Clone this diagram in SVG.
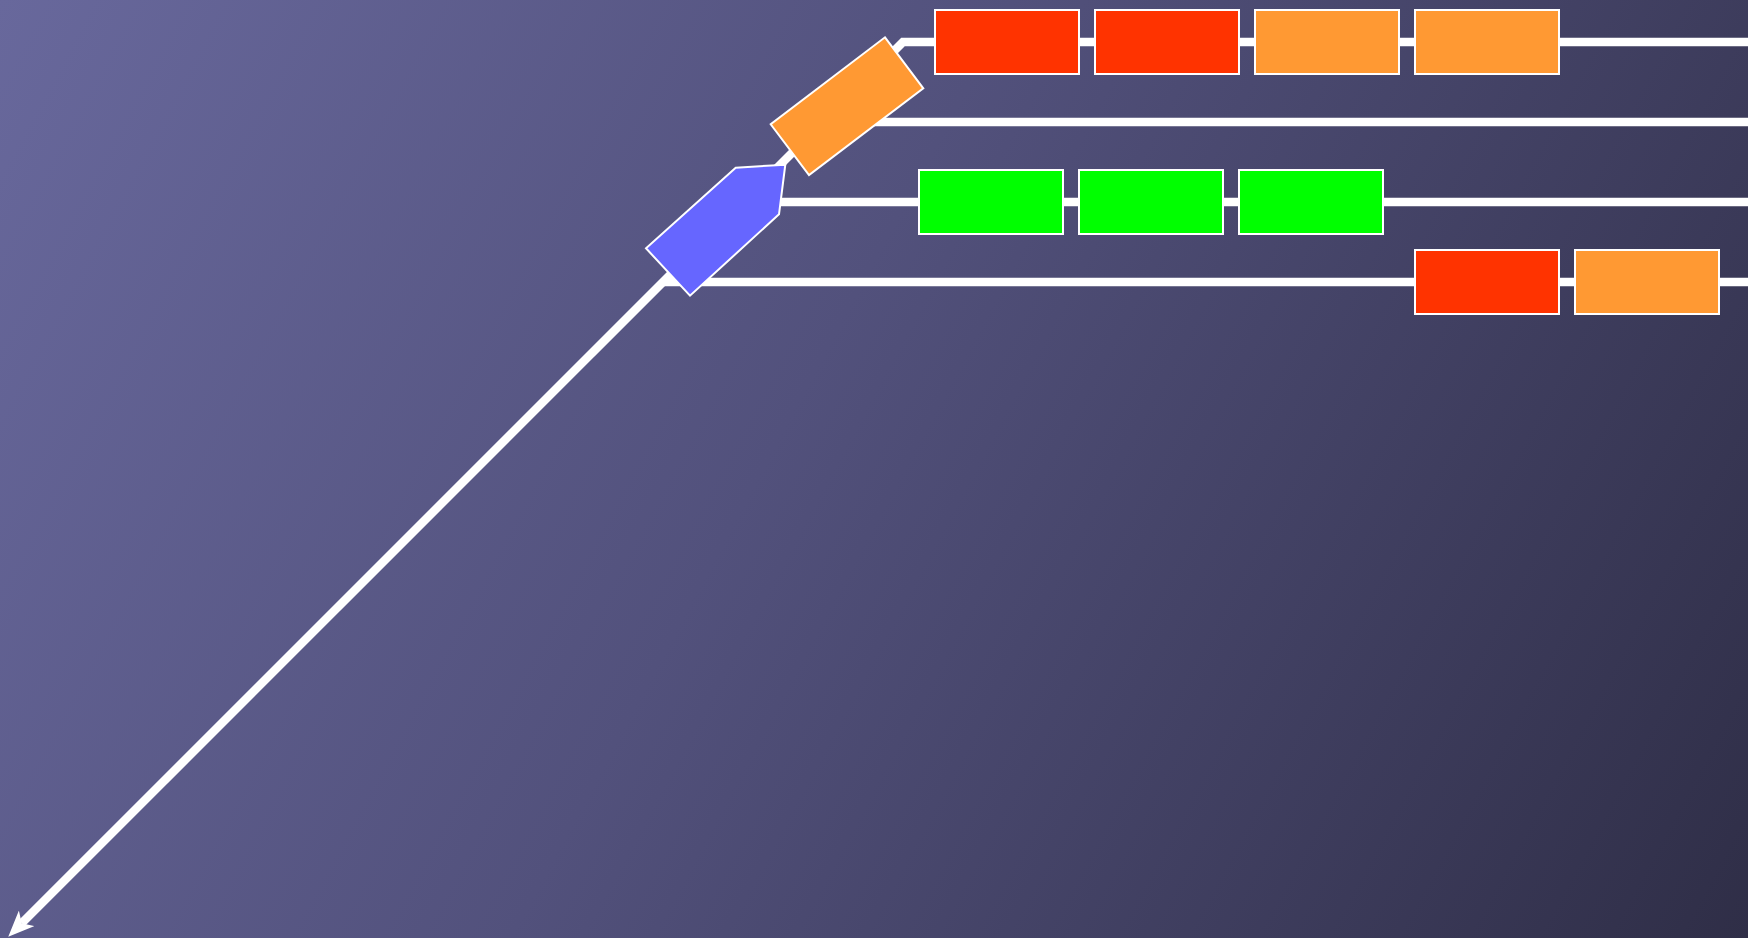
<svg xmlns="http://www.w3.org/2000/svg" width="1748" height="938" viewBox="0 0 1748 938">
  <defs>
    <linearGradient id="bg" x1="0" y1="0" x2="1748" y2="938" gradientUnits="userSpaceOnUse">
      <stop offset="0" stop-color="#68689c"/>
      <stop offset="0.45" stop-color="#52517c"/>
      <stop offset="1" stop-color="#2f2e47"/>
    </linearGradient>
    <marker id="arrow" viewBox="0 0 26 22" refX="7" refY="11" markerWidth="26" markerHeight="22" markerUnits="userSpaceOnUse" orient="auto">
      <path d="M0,0 L26,11 L0,22 L7,11 z" fill="#ffffff"/>
    </marker>
    <style>
      .ln { stroke: #ffffff; stroke-width: 8.5; fill: none; }
      .box { stroke: #ffffff; stroke-width: 2; }
      .red { fill: #ff3300; }
      .orange { fill: #ff9933; }
      .green { fill: #00ff00; }
      .blue { fill: #6666ff; }
    </style>
  </defs>
  <rect x="0" y="0" width="1748" height="938" fill="url(#bg)"/>

  <g id="connectors">
    <path class="ln" d="M1748,42 L903,42 L21.7,923.3" marker-end="url(#arrow)"/>
    <line class="ln" x1="823" y1="122" x2="1748" y2="122"/>
    <line class="ln" x1="743" y1="202" x2="1748" y2="202"/>
    <line class="ln" x1="663" y1="282" x2="1748" y2="282"/>
  </g>

  <g id="row1-box1"><rect class="box red" x="935" y="10" width="144" height="64"/></g>
  <g id="row1-box2"><rect class="box red" x="1095" y="10" width="144" height="64"/></g>
  <g id="row1-box3"><rect class="box orange" x="1255" y="10" width="144" height="64"/></g>
  <g id="row1-box4"><rect class="box orange" x="1415" y="10" width="144" height="64"/></g>

  <g id="row3-box1"><rect class="box green" x="919" y="170" width="144" height="64"/></g>
  <g id="row3-box2"><rect class="box green" x="1079" y="170" width="144" height="64"/></g>
  <g id="row3-box3"><rect class="box green" x="1239" y="170" width="144" height="64"/></g>

  <g id="row4-box1"><rect class="box red" x="1415" y="250" width="144" height="64"/></g>
  <g id="row4-box2"><rect class="box orange" x="1575" y="250" width="144" height="64"/></g>

  <g id="tilted-box"><polygon class="box orange" points="885,37.3 923.3,88.3 809,175 770.7,124.3"/></g>
  <g id="pointer"><polygon class="box blue" points="735.7,167.7 785.3,164.7 779,214.3 690,295.7 646,248.3"/></g>
</svg>
